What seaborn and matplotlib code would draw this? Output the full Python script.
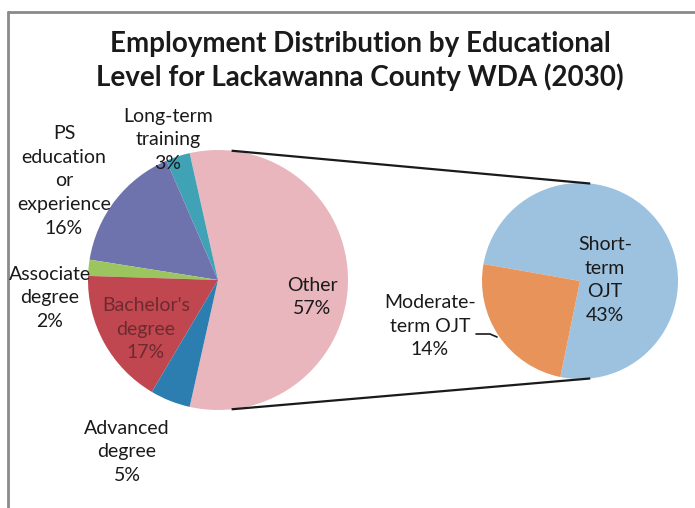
import matplotlib
matplotlib.use("Agg")
import matplotlib.pyplot as plt
import numpy as np
import seaborn as sns

# Main pie: education levels (share of total employment, %)
main_labels = ["Other", "Long-term\ntraining", "PS\neducation\nor\nexperience",
               "Associate\ndegree", "Bachelor's\ndegree", "Advanced\ndegree"]
main_values = [57, 3, 16, 2, 17, 5]

# Secondary pie: breakdown of "Other" (share of total employment, %)
sub_labels = ["Short-\nterm\nOJT", "Moderate-\nterm OJT"]
sub_values = [43, 14]

title = "Employment Distribution by Educational\nLevel for Lackawanna County WDA (2030)"

main_colors = ["#E8B6BC", "#3FA3B5", "#6E73AE", "#9BC55F", "#C0474F", "#2B7EAF"]
sub_colors = ["#9CC2E0", "#E8935A"]

sns.set_theme(style="white")
plt.rcParams["font.family"] = ["Lato", "DejaVu Sans"]

W, H = 695, 508
fig = plt.figure(figsize=(W / 100, H / 100), dpi=100)
ax = fig.add_axes([0, 0, 1, 1])

# pixel-like coordinates with y measured from the bottom
main_c, main_r = (218, 228), 130
sub_c, sub_r = (580, 227), 98

other_angle = main_values[0] / sum(main_values) * 360
ax.pie(main_values, colors=main_colors, startangle=-other_angle / 2,
       counterclock=True, center=main_c, radius=main_r,
       wedgeprops=dict(linewidth=0), frame=False)

short_angle = sub_values[0] / sum(sub_values) * 360
ax.pie(sub_values, colors=sub_colors, startangle=170 - short_angle,
       counterclock=True, center=sub_c, radius=sub_r,
       wedgeprops=dict(linewidth=0), frame=False)
ax.set_xlim(0, W)
ax.set_ylim(0, H)
ax.set_aspect("equal")
ax.axis("off")

# connector lines between the two pies
for ang in (84, -84):
    a = np.deg2rad(ang)
    x0, y0 = main_c[0] + main_r * np.cos(a), main_c[1] + main_r * np.sin(a)
    x1, y1 = sub_c[0] + sub_r * np.cos(a), sub_c[1] + sub_r * np.sin(a)
    ax.plot([x0, x1], [y0, y1], color="#1a1a1a", lw=1.6, solid_capstyle="butt")

fs = 14
lh = 1.48
kw = dict(ha="center", va="center", fontsize=fs, linespacing=lh, color="#1a1a1a")


def pct(v):
    return f"{v}%"


ax.text(312, H - 297, f"{main_labels[0]}\n{pct(main_values[0])}", **kw)
ax.text(168, H - 140, f"{main_labels[1]}\n{pct(main_values[1])}", **kw)
ax.text(64, H - 181, f"{main_labels[2]}\n{pct(main_values[2])}", **kw)
ax.text(50, H - 298, f"{main_labels[3]}\n{pct(main_values[3])}", **kw)
kw_in = dict(kw)
kw_in["color"] = "#6E2A30"
ax.text(146, H - 329, f"{main_labels[4]}\n{pct(main_values[4])}", **kw_in)
ax.text(127, H - 452, f"{main_labels[5]}\n{pct(main_values[5])}", **kw)

ax.text(605, H - 280, f"{sub_labels[0]}\n{pct(sub_values[0])}", **kw)
ax.text(430, H - 326, f"{sub_labels[1]}\n{pct(sub_values[1])}", **kw)
ax.plot([476, 490, 497], [H - 334, H - 334, H - 337], color="#1a1a1a", lw=1.2)

ax.text(360, H - 61, title, ha="center", va="center", fontsize=20,
        fontweight="bold", linespacing=1.25, color="#1a1a1a")

# chart frame (top and left edges)
ax.plot([8, W], [H - 12, H - 12], color="#8a8a8a", lw=2)
ax.plot([8, 8], [H - 12, 0], color="#8a8a8a", lw=2)

fig.savefig("out.png", dpi=100, facecolor="white")
